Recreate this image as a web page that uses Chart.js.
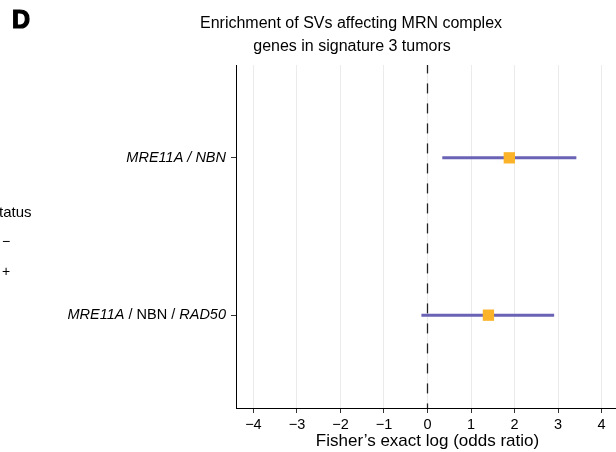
<!DOCTYPE html>
<html><head><meta charset="utf-8">
<script src="https://cdn.jsdelivr.net/npm/chart.js@4/dist/chart.umd.min.js"></script>
<style>html,body{margin:0;padding:0;background:#fff;overflow:hidden}#wrap{width:616px;height:452px;position:relative;overflow:hidden}</style>
</head><body><div id="wrap"><canvas id="c" width="627" height="452"></canvas></div>
<script>
// Data
const categories = [
  [['MRE11A', true], [' / ', true], ['NBN', true]],
  [['MRE11A', true], [' / NBN / ', false], ['RAD50', true]]
];
const rowPos = [2, 1];
const logOR = [1.88, 1.40];
const ciLow = [0.34, -0.14];
const ciHigh = [3.42, 2.91];
const xTicks = [-4, -3, -2, -1, 0, 1, 2, 3, 4];
const titleLines = ['Enrichment of SVs affecting MRN complex', 'genes in signature 3 tumors'];
const xTitle = 'Fisher\u2019s exact log (odds ratio)';
const legendFragment = ['tatus', '\u2212', '+'];

const FONT = '"Liberation Sans", Arial, Helvetica, sans-serif';
const lineColor = '#6a62b4';
const pointColor = '#fbb42a';

const datasets = [];
categories.forEach((c, i) => {
  datasets.push({
    type: 'line',
    data: [{x: ciLow[i], y: rowPos[i]}, {x: ciHigh[i], y: rowPos[i]}],
    borderColor: lineColor, borderWidth: 3, pointRadius: 0, order: 2
  });
});
datasets.push({
  type: 'line',
  data: [{x: 0, y: 2.6}, {x: 0, y: 0.4}],
  borderColor: '#222', borderWidth: 1.3, borderDash: [10, 10], pointRadius: 0, order: 3
});
datasets.push({
  type: 'scatter',
  data: logOR.map((v, i) => ({x: v, y: rowPos[i]})),
  backgroundColor: pointColor, borderColor: pointColor, borderWidth: 0,
  pointStyle: 'rect', pointRadius: 8, order: 1
});

const textPlugin = {
  id: 'texts',
  afterDraw(chart) {
    const ctx = chart.ctx;
    const y = chart.scales.y;
    ctx.save();
    ctx.fillStyle = '#000';
    ctx.strokeStyle = '#000';
    // panel letter
    ctx.font = 'bold 25px ' + FONT;
    ctx.textBaseline = 'alphabetic';
    ctx.textAlign = 'left';
    ctx.lineWidth = 1.2;
    ctx.fillText('D', 12, 28);
    ctx.strokeText('D', 12, 28);
    // title
    ctx.font = '16px ' + FONT;
    ctx.textAlign = 'center';
    ctx.fillText(titleLines[0], 351, 28);
    ctx.fillText(titleLines[1], 352, 51);
    // legend fragment
    ctx.textAlign = 'left';
    ctx.font = '15px ' + FONT;
    ctx.fillText(legendFragment[0], -1, 217);
    ctx.font = '14px ' + FONT;
    ctx.fillText(legendFragment[1], 2, 246);
    ctx.fillText(legendFragment[2], 2, 276);
    // y labels with mixed styles
    ctx.textBaseline = 'middle';
    categories.forEach((parts, i) => {
      const py = y.getPixelForValue(rowPos[i]);
      let x = 226;
      for (let k = parts.length - 1; k >= 0; k--) {
        const [t, it] = parts[k];
        ctx.font = (it ? 'italic ' : '') + '14.5px ' + FONT;
        const w = ctx.measureText(t).width;
        x -= w;
        ctx.fillText(t, x, py);
      }
    });
    ctx.restore();
  }
};

new Chart(document.getElementById('c'), {
  data: {datasets},
  options: {
    responsive: false,
    animation: false,
    layout: {padding: {top: 65, right: 0, left: 0, bottom: 0}},
    plugins: {legend: {display: false}, tooltip: {enabled: false}, title: {display: false}},
    scales: {
      x: {
        type: 'linear', min: -4.4, max: 4.4,
        afterBuildTicks: s => { s.ticks = xTicks.map(v => ({value: v})); },
        afterFit: s => { s.height = 44; },
        grid: {color: '#ebebeb', lineWidth: 1, tickColor: '#333', tickLength: 5},
        border: {display: true, color: '#000', width: 1},
        ticks: {color: '#000', font: {family: FONT, size: 14.5}, padding: 3, autoSkip: false, maxRotation: 0,
          callback: v => (v < 0 ? '\u2212' + Math.abs(v) : String(v))},
        title: {display: true, text: xTitle, color: '#000', font: {family: FONT, size: 17}, padding: {top: 0, bottom: 0}}
      },
      y: {
        type: 'linear', min: 0.41, max: 2.59,
        afterBuildTicks: s => { s.ticks = rowPos.map(v => ({value: v})); },
        afterFit: s => { s.width = 236; },
        grid: {drawOnChartArea: false, drawTicks: true, tickColor: '#333', tickLength: 5},
        border: {display: true, color: '#000', width: 1},
        ticks: {callback: () => '', padding: 0}
      }
    }
  },
  plugins: [textPlugin]
});
</script></body></html>
